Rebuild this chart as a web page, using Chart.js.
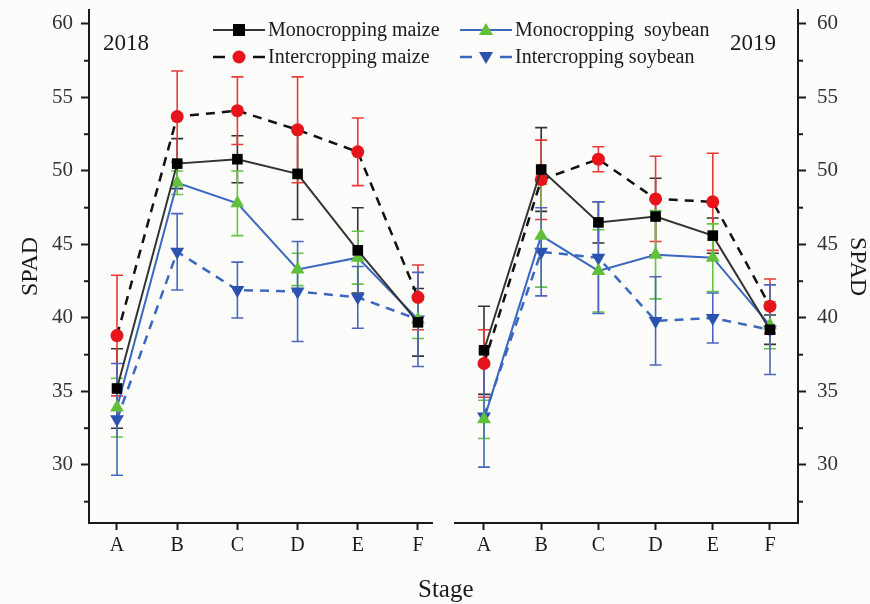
<!DOCTYPE html>
<html>
<head>
<meta charset="utf-8">
<script src="https://cdn.jsdelivr.net/npm/chart.js@4.4.1/dist/chart.umd.min.js"></script>
<style>
  body { margin: 0; background: #fcfcfa; }
  #wrap { position: relative; width: 870px; height: 604px; overflow: hidden;
          font-family: 'Liberation Serif', 'Times New Roman', serif; color: #1a1a1a; }
  canvas { position: absolute; top: 0; }
  .txt { position: absolute; white-space: nowrap; line-height: 1; }
  .sym { position: absolute; }
</style>
</head>
<body>
<div id="wrap">
  <canvas id="c2018" width="445" height="604" style="left:0"></canvas>
  <canvas id="c2019" width="425" height="604" style="left:445px"></canvas>

  <div class="txt" style="left:103px;top:31px;font-size:23px">2018</div>
  <div class="txt" style="left:730px;top:31px;font-size:23px">2019</div>
  <div class="txt" style="left:418px;top:576px;font-size:25px">Stage</div>

  <!-- legend -->
  <svg class="sym" style="left:213px;top:20px" width="54" height="20">
    <line x1="0" y1="10" x2="52" y2="10" stroke="#333" stroke-width="2"/>
    <rect x="20" y="4" width="12" height="12" fill="#000"/>
  </svg>
  <div class="txt" style="left:268px;top:19px;font-size:20px">Monocropping maize</div>
  <svg class="sym" style="left:213px;top:47px" width="54" height="20">
    <line x1="0" y1="10" x2="12" y2="10" stroke="#111" stroke-width="2.5"/>
    <line x1="40" y1="10" x2="52" y2="10" stroke="#111" stroke-width="2.5"/>
    <circle cx="26" cy="10" r="6.5" fill="#e8141c"/>
  </svg>
  <div class="txt" style="left:268px;top:46px;font-size:20px">Intercropping maize</div>
  <svg class="sym" style="left:460px;top:20px" width="54" height="20">
    <line x1="0" y1="10" x2="52" y2="10" stroke="#3a68c0" stroke-width="2"/>
    <polygon points="26,3 33,15 19,15" fill="#62bf3c"/>
  </svg>
  <div class="txt" style="left:515px;top:19px;font-size:20px">Monocropping&nbsp; soybean</div>
  <svg class="sym" style="left:460px;top:47px" width="54" height="20">
    <line x1="0" y1="10" x2="12" y2="10" stroke="#3a68c0" stroke-width="2.5"/>
    <line x1="40" y1="10" x2="52" y2="10" stroke="#3a68c0" stroke-width="2.5"/>
    <polygon points="19,5 33,5 26,17" fill="#2a52ae"/>
  </svg>
  <div class="txt" style="left:515px;top:46px;font-size:20px">Intercropping soybean</div>
</div>

<script>
const stages = ['A', 'B', 'C', 'D', 'E', 'F'];
const yTicks = [30, 35, 40, 45, 50, 55, 60];
const yMinor = [27.5, 32.5, 37.5, 42.5, 47.5, 52.5, 57.5];

// 2018 means and error bars
const monoMaize2018 = [35.2, 50.5, 50.8, 49.8, 44.6, 39.7];
const monoMaize2018Err = [2.7, 1.7, 1.6, 3.1, 2.9, 2.3];
const interMaize2018 = [38.8, 53.7, 54.1, 52.8, 51.3, 41.4];
const interMaize2018Err = [4.1, 3.1, 2.3, 3.6, 2.3, 2.2];
const monoSoy2018 = [33.9, 49.2, 47.8, 43.3, 44.1, 39.9];
const monoSoy2018Err = [2.0, 0.8, 2.2, 1.1, 1.8, 1.3];
const interSoy2018 = [33.1, 44.5, 41.9, 41.8, 41.4, 39.9];
const interSoy2018Err = [3.8, 2.6, 1.9, 3.4, 2.1, 3.2];

// 2019 means and error bars
const monoMaize2019 = [37.8, 50.1, 46.5, 46.9, 45.6, 39.2];
const monoMaize2019Err = [3.0, 2.85, 1.4, 2.6, 1.2, 1.0];
const interMaize2019 = [36.9, 49.4, 50.8, 48.1, 47.9, 40.8];
const interMaize2019Err = [2.3, 2.7, 0.85, 2.9, 3.3, 1.85];
const monoSoy2019 = [33.1, 45.6, 43.2, 44.3, 44.1, 39.5];
const monoSoy2019Err = [1.3, 3.5, 2.8, 3.0, 2.3, 1.6];
const interSoy2019 = [33.3, 44.5, 44.1, 39.8, 40.0, 39.2];
const interSoy2019Err = [3.45, 3.0, 3.8, 3.0, 1.7, 3.05];

const FONT = "'Liberation Serif', 'Times New Roman', serif";
const INK = '#1a1a1a';

function pts(vals) {
  return vals.map((v, i) => ({ x: i, y: v }));
}

function series(mm, mmE, im, imE, ms, msE, is, isE) {
  return [
    { label: 'Monocropping maize', data: pts(mm), errors: mmE, errColor: '#333',
      borderColor: '#333', borderWidth: 2, pointStyle: 'rect', pointRadius: 7.5,
      pointBackgroundColor: '#000', pointBorderWidth: 0 },
    { label: 'Intercropping maize', data: pts(im), errors: imE, errColor: '#e83a3a',
      borderColor: '#111', borderWidth: 2.5, borderDash: [9, 7], pointStyle: 'circle', pointRadius: 6.5,
      pointBackgroundColor: '#e8141c', pointBorderWidth: 0 },
    { label: 'Monocropping soybean', data: pts(ms), errors: msE, errColor: '#66c445',
      borderColor: '#3a68c0', borderWidth: 2, pointStyle: 'triangle', pointRadius: 8,
      pointBackgroundColor: '#62bf3c', pointBorderWidth: 0 },
    { label: 'Intercropping soybean', data: pts(is), errors: isE, errColor: '#4a66c0',
      borderColor: '#3a68c0', borderWidth: 2.5, borderDash: [9, 7], pointStyle: 'triangle', pointRotation: 180,
      pointRadius: 8, pointBackgroundColor: '#2a52ae', pointBorderWidth: 0 }
  ];
}

const errorBars = {
  id: 'errorBars',
  beforeDatasetsDraw(chart) {
    const ctx = chart.ctx;
    const y = chart.scales.y;
    chart.data.datasets.forEach((ds, i) => {
      const meta = chart.getDatasetMeta(i);
      ctx.save();
      ctx.strokeStyle = ds.errColor;
      ctx.lineWidth = 1.6;
      meta.data.forEach((pt, j) => {
        const v = ds.data[j].y, e = ds.errors[j];
        const t = y.getPixelForValue(v + e), b = y.getPixelForValue(v - e);
        ctx.beginPath();
        ctx.moveTo(pt.x, t); ctx.lineTo(pt.x, b);
        ctx.moveTo(pt.x - 6, t); ctx.lineTo(pt.x + 6, t);
        ctx.moveTo(pt.x - 6, b); ctx.lineTo(pt.x + 6, b);
        ctx.stroke();
      });
      ctx.restore();
    });
  }
};

// short minor ticks between the labelled ones
const minorTicks = {
  id: 'minorTicks',
  afterDraw(chart) {
    const ctx = chart.ctx, y = chart.scales.y;
    const right = y.position === 'right';
    const x0 = right ? chart.chartArea.right : chart.chartArea.left;
    ctx.save();
    ctx.strokeStyle = INK;
    ctx.lineWidth = 2;
    yMinor.forEach(v => {
      const py = y.getPixelForValue(v);
      ctx.beginPath();
      ctx.moveTo(x0, py);
      ctx.lineTo(right ? x0 + 5 : x0 - 5, py);
      ctx.stroke();
    });
    ctx.restore();
  }
};

function noEdgePad(s) {
  s.paddingTop = 0; s.paddingBottom = 0; s.paddingLeft = 0; s.paddingRight = 0;
}

function makeChart(id, datasets, opt) {
  return new Chart(document.getElementById(id), {
    type: 'line',
    data: { datasets },
    plugins: [errorBars, minorTicks],
    options: {
      responsive: false,
      animation: false,
      layout: { padding: opt.padding },
      plugins: { legend: { display: false }, tooltip: { enabled: false } },
      elements: { line: { tension: 0 } },
      scales: {
        x: {
          type: 'linear', min: opt.xMin, max: opt.xMax,
          afterBuildTicks: s => { s.ticks = stages.map((_, i) => ({ value: i })); },
          afterFit: s => { s.height = 81; noEdgePad(s); },
          ticks: { callback: v => stages[v], font: { family: FONT, size: 20 }, color: INK, padding: 4 },
          grid: { drawOnChartArea: false, drawTicks: true, tickLength: 7, tickWidth: 2, tickColor: INK },
          border: { color: INK, width: 2 }
        },
        y: {
          position: opt.yPos, min: 26.05, max: 60.95,
          afterBuildTicks: s => { s.ticks = yTicks.map(v => ({ value: v })); },
          afterFit: s => { s.width = opt.yWidth; noEdgePad(s); },
          ticks: { font: { family: FONT, size: 21 }, color: '#333', padding: opt.tickPad },
          grid: { drawOnChartArea: false, drawTicks: true, tickLength: 8, tickWidth: 2, tickColor: INK },
          border: { color: INK, width: 2 },
          title: { display: true, text: 'SPAD', color: INK,
                   font: { family: FONT, size: 24, lineHeight: 1 }, padding: { top: opt.titlePad, bottom: 0 } }
        }
      }
    }
  });
}

makeChart('c2018',
  series(monoMaize2018, monoMaize2018Err, interMaize2018, interMaize2018Err,
         monoSoy2018, monoSoy2018Err, interSoy2018, interSoy2018Err),
  { padding: { left: 0, right: 13, top: 10, bottom: 0 }, xMin: -0.465, xMax: 5.233,
    yPos: 'left', yWidth: 89, tickPad: 8, titlePad: 19 });

makeChart('c2019',
  series(monoMaize2019, monoMaize2019Err, interMaize2019, interMaize2019Err,
         monoSoy2019, monoSoy2019Err, interSoy2019, interSoy2019Err),
  { padding: { left: 10, right: 0, top: 10, bottom: 0 }, xMin: -0.507, xMax: 5.49,
    yPos: 'right', yWidth: 72, tickPad: 11, titlePad: 1 });
</script>
</body>
</html>
